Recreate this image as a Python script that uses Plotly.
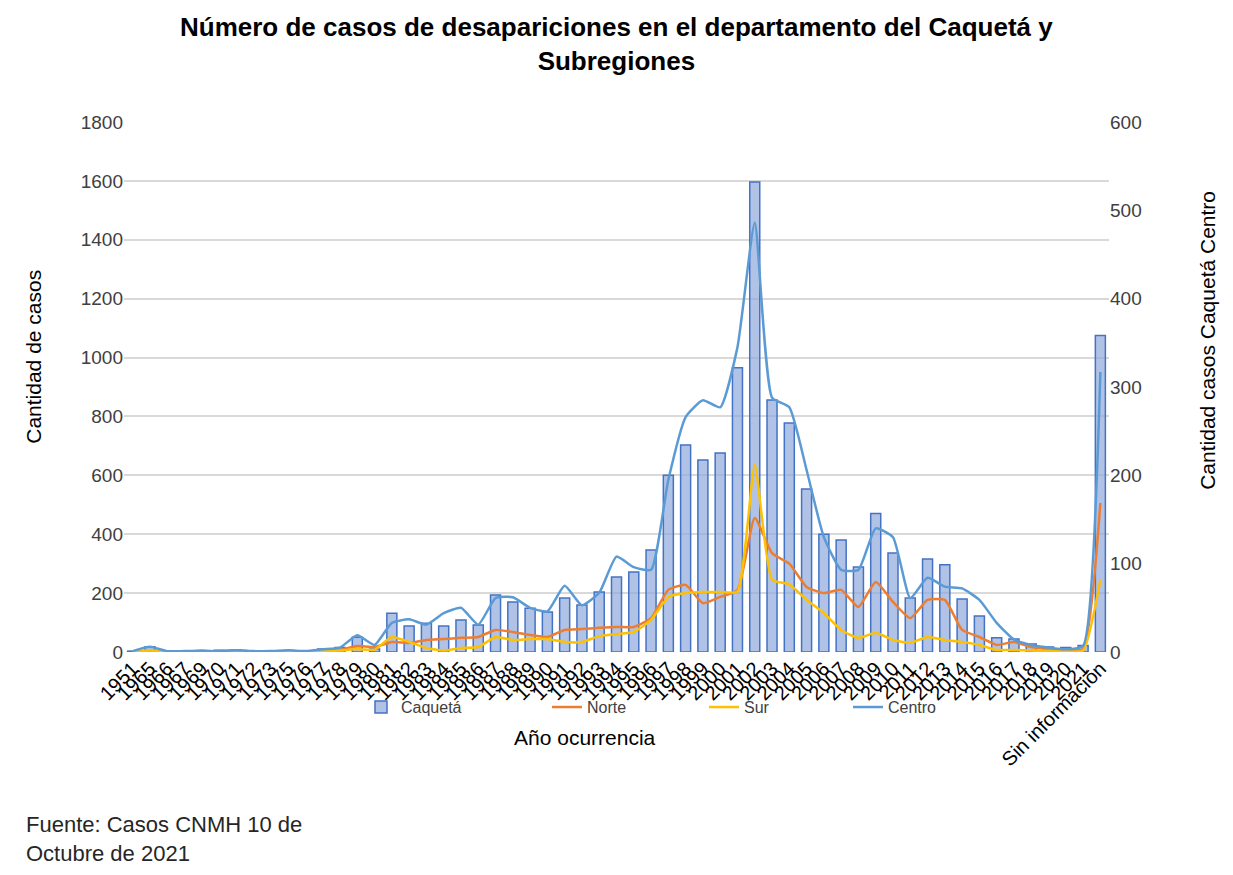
import plotly.graph_objects as go

categories = ["1951", "1965", "1966", "1967", "1969", "1970", "1971", "1972", "1973", "1975",
              "1976", "1977", "1978", "1979", "1980", "1981", "1982", "1983", "1984", "1985",
              "1986", "1987", "1988", "1989", "1990", "1991", "1992", "1993", "1994", "1995",
              "1996", "1997", "1998", "1999", "2000", "2001", "2002", "2003", "2004", "2005",
              "2006", "2007", "2008", "2009", "2010", "2011", "2012", "2013", "2014", "2015",
              "2016", "2017", "2018", "2019", "2020", "2021", "Sin información"]

caqueta = [3, 18, 3, 3, 4, 6, 8, 3, 3, 5,
           3, 10, 15, 50, 10, 132, 88, 98, 88, 109,
           92, 194, 170, 149, 136, 183, 160, 204, 255, 272,
           346, 600, 703, 652, 676, 965, 1596, 856, 778, 554,
           400, 380, 289, 470, 336, 183, 316, 296, 180, 122,
           48, 44, 27, 17, 15, 22, 1075]

norte = [1, 3, 1, 1, 5, 2, 6, 1, 1, 3,
         1, 4, 8, 20, 17, 34, 31, 41, 44, 48,
         51, 75, 68, 58, 51, 75, 78, 82, 85, 85,
         115, 211, 228, 166, 187, 210, 455, 336, 300, 221,
         200, 211, 153, 238, 170, 115, 177, 177, 75, 51,
         24, 34, 17, 10, 7, 10, 506]

sur = [1, 5, 1, 1, 1, 1, 2, 1, 1, 1,
       1, 3, 5, 10, 8, 51, 34, 14, 5, 14,
       17, 51, 41, 44, 44, 34, 34, 54, 61, 68,
       109, 187, 200, 204, 204, 205, 635, 245, 230, 177,
       132, 75, 48, 65, 41, 31, 51, 41, 34, 24,
       7, 7, 5, 3, 2, 5, 245]

centro = [1, 6, 1, 1, 1, 1, 2, 1, 1, 2,
          1, 3, 5, 19, 8, 33, 37, 31, 44, 50,
          31, 61, 62, 50, 46, 75, 53, 67, 108, 96,
          93, 195, 266, 285, 277, 345, 486, 288, 277, 206,
          130, 93, 93, 140, 130, 61, 84, 74, 72, 59,
          33, 14, 8, 5, 3, 7, 317]

left_ticks = [0, 200, 400, 600, 800, 1000, 1200, 1400, 1600, 1800]
right_ticks = [0, 100, 200, 300, 400, 500, 600]

FONT = "Liberation Sans, Arial, sans-serif"

fig = go.Figure()
fig.add_trace(go.Bar(
    x=categories, y=caqueta, name="Caquetá", legend="legend",
    marker=dict(color="rgba(143,170,220,0.7)", line=dict(color="#4472c4", width=1.5)),
))
fig.add_trace(go.Scatter(
    x=categories, y=norte, name="Norte", mode="lines", legend="legend2",
    line=dict(color="#ed7d31", width=2.5, shape="spline", smoothing=0.5),
))
fig.add_trace(go.Scatter(
    x=categories, y=sur, name="Sur", mode="lines", legend="legend3",
    line=dict(color="#ffc000", width=2.5, shape="spline", smoothing=0.5),
))
fig.add_trace(go.Scatter(
    x=categories, y=centro, name="Centro", mode="lines", yaxis="y2", legend="legend4",
    line=dict(color="#5b9bd5", width=2.5, shape="spline", smoothing=0.5),
))

def leg(xpos):
    return dict(orientation="h", x=xpos, xanchor="left", y=-0.104, yanchor="middle",
                bgcolor="rgba(0,0,0,0)", font=dict(size=16, color="#404040"))

fig.update_layout(
    width=1233, height=875,
    margin=dict(l=116, r=132, t=114, b=231, autoexpand=False),
    paper_bgcolor="white", plot_bgcolor="white",
    font=dict(family=FONT, color="#262626", size=16),
    bargap=0.42,
    xaxis=dict(
        type="category", tickangle=-45, tickmode="linear", dtick=1,
        tickfont=dict(size=20, color="#000000"),
        showgrid=False, showline=False, ticks="",
    ),
    yaxis=dict(
        range=[0, 1800], tickvals=left_ticks, showgrid=True, gridcolor="#d9d9d9", gridwidth=1.5,
        tickfont=dict(size=19, color="#404040"), zeroline=False, showline=False, ticks="",
    ),
    yaxis2=dict(
        range=[0, 600], tickvals=right_ticks, overlaying="y", side="right", showgrid=False,
        tickfont=dict(size=19, color="#404040"), zeroline=False, ticks="",
    ),
    legend=leg(0.2406),
    legend2=leg(0.4294),
    legend3=leg(0.5888),
    legend4=leg(0.7350),
    showlegend=True,
)

fig.add_annotation(
    text="<b>Número de casos de desapariciones en el departamento del Caquetá y<br>Subregiones</b>",
    xref="paper", yref="paper", x=0.4995, y=1.147, xanchor="center", yanchor="middle",
    showarrow=False, font=dict(size=26, color="#000000"))
fig.add_annotation(text="Año ocurrencia", xref="paper", yref="paper", x=0.468, y=-0.162,
                   xanchor="center", yanchor="middle",
                   showarrow=False, font=dict(size=21, color="#000000"))
fig.add_annotation(text="Cantidad de casos", xref="paper", yref="paper", x=-0.0914, y=0.557,
                   xanchor="center", yanchor="middle",
                   textangle=-90, showarrow=False, font=dict(size=21, color="#000000"))
fig.add_annotation(text="Cantidad casos Caquetá Centro", xref="paper", yref="paper", x=1.1005,
                   y=0.589, xanchor="center", yanchor="middle",
                   textangle=-90, showarrow=False, font=dict(size=21, color="#000000"))
fig.add_annotation(text="Fuente: Casos CNMH 10 de<br>Octubre de 2021", xref="paper", yref="paper",
                   x=-0.1015, y=-0.298, xanchor="left", yanchor="top", align="left",
                   showarrow=False, font=dict(size=22, color="#262626"))

fig.write_html("out.html")
